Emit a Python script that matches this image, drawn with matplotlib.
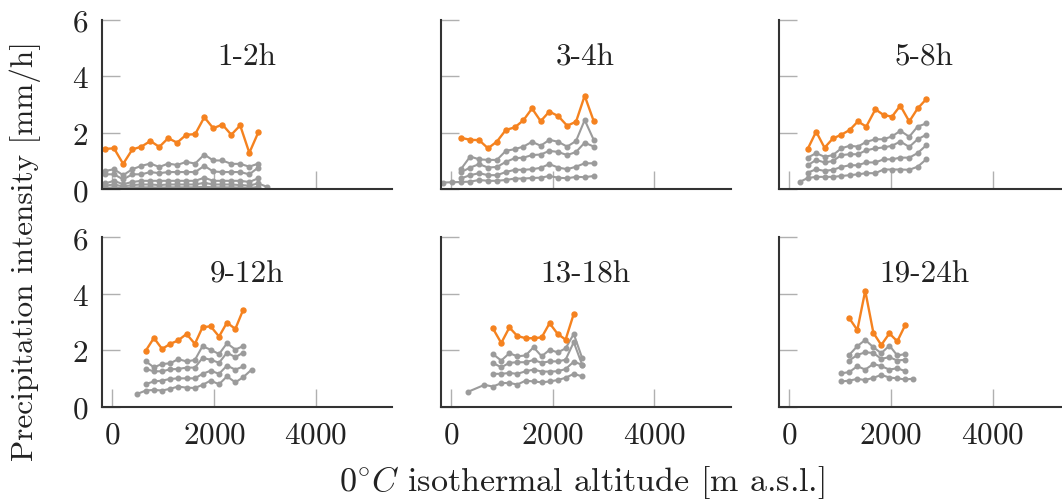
import matplotlib
matplotlib.use('Agg')
import matplotlib.pyplot as plt

plt.rcParams['font.family'] = ['cmr10', 'DejaVu Serif']
plt.rcParams['mathtext.fontset'] = 'cm'
plt.rcParams['axes.formatter.use_mathtext'] = True

# ---------------- data ----------------
titles = ['1-2h', '3-4h', '5-8h', '9-12h', '13-18h', '19-24h']

# Panel 1 (1-2h)
p1_x = [-140, 30, 210, 390, 570, 745, 920, 1095, 1270, 1450, 1625, 1805, 1980, 2160, 2335, 2510, 2690, 2865]
p1_xe = p1_x + [3045]
p1_top = [1.43, 1.45, 0.90, 1.41, 1.51, 1.71, 1.50, 1.81, 1.65, 1.93, 1.95, 2.55, 2.16, 2.29, 1.93, 2.26, 1.29, 2.01]
p1_g1 = [0.65, 0.71, 0.50, 0.71, 0.83, 0.91, 0.79, 0.91, 0.86, 0.97, 0.91, 1.23, 1.02, 1.02, 0.90, 0.90, 0.80, 0.91]
p1_g2 = [0.53, 0.53, 0.35, 0.53, 0.53, 0.61, 0.57, 0.61, 0.61, 0.61, 0.61, 0.83, 0.63, 0.61, 0.61, 0.61, 0.53, 0.77]
p1_g3 = [0.21, 0.30, 0.18, 0.26, 0.30, 0.30, 0.30, 0.30, 0.30, 0.30, 0.30, 0.41, 0.30, 0.30, 0.30, 0.30, 0.26, 0.39]
p1_g4 = [0.13, 0.17, 0.10, 0.15, 0.17, 0.17, 0.15, 0.17, 0.17, 0.17, 0.17, 0.23, 0.17, 0.17, 0.17, 0.15, 0.13, 0.21, 0.08]
p1_g5 = [0.05, 0.07, 0.04, 0.06, 0.07, 0.07, 0.06, 0.07, 0.07, 0.07, 0.07, 0.09, 0.07, 0.07, 0.07, 0.06, 0.05, 0.08]

# Panel 2 (3-4h)
p2_x = [205, 380, 555, 730, 905, 1080, 1255, 1425, 1595, 1765, 1935, 2110, 2285, 2460, 2630, 2810]
p2_xe = [-145, 30] + p2_x
p2_top = [1.82, 1.75, 1.74, 1.45, 1.69, 2.10, 2.19, 2.44, 2.86, 2.41, 2.75, 2.59, 2.25, 2.39, 3.31, 2.40]
p2_g1 = [0.73, 1.16, 1.06, 1.04, 1.04, 1.36, 1.42, 1.51, 1.68, 1.54, 1.75, 1.68, 1.51, 1.71, 2.45, 1.74]
p2_g2 = [0.61, 0.77, 0.89, 0.77, 0.79, 0.97, 1.10, 1.12, 1.21, 1.23, 1.36, 1.32, 1.21, 1.32, 1.65, 1.51]
p2_g3 = [0.39, 0.50, 0.57, 0.50, 0.50, 0.61, 0.69, 0.69, 0.71, 0.76, 0.89, 0.77, 0.71, 0.80, 0.92, 0.92]
p2_g4 = [0.24, 0.25, 0.26, 0.27, 0.33, 0.30, 0.30, 0.33, 0.38, 0.38, 0.40, 0.41, 0.47, 0.41, 0.39, 0.44, 0.43, 0.47]

# Panel 3 (5-8h)
p3_x = [365, 530, 695, 860, 1025, 1190, 1350, 1515, 1695, 1855, 2020, 2185, 2360, 2525, 2695]
p3_xe = [205] + p3_x
p3_top = [1.43, 2.04, 1.47, 1.80, 1.93, 2.10, 2.40, 2.22, 2.83, 2.63, 2.57, 2.96, 2.40, 2.86, 3.19]
p3_g1 = [1.12, 1.28, 1.15, 1.21, 1.45, 1.54, 1.51, 1.68, 1.77, 1.77, 1.87, 2.07, 1.86, 2.22, 2.33]
p3_g2 = [0.85, 1.04, 0.95, 1.00, 1.21, 1.24, 1.24, 1.38, 1.45, 1.48, 1.54, 1.69, 1.50, 1.77, 1.93]
p3_g3 = [0.59, 0.71, 0.65, 0.69, 0.79, 0.85, 0.85, 0.95, 0.95, 1.06, 1.06, 1.12, 1.12, 1.28, 1.56]
p3_g4 = [0.26, 0.40, 0.44, 0.44, 0.44, 0.47, 0.50, 0.53, 0.57, 0.57, 0.70, 0.70, 0.70, 0.69, 0.80, 1.06]

# Panel 4 (9-12h)
p4_x = [655, 815, 975, 1135, 1290, 1455, 1620, 1770, 1930, 2095, 2250, 2415, 2570]
p4_xe = [490] + p4_x + [2735]
p4_top = [1.99, 2.44, 2.05, 2.23, 2.35, 2.58, 2.23, 2.82, 2.85, 2.49, 2.98, 2.76, 3.44]
p4_g1 = [1.61, 1.40, 1.52, 1.54, 1.69, 1.61, 1.66, 2.15, 2.02, 1.87, 2.25, 2.03, 2.15]
p4_g2 = [1.34, 1.26, 1.26, 1.33, 1.34, 1.39, 1.39, 1.73, 1.67, 1.56, 1.92, 1.76, 1.92]
p4_g3 = [0.81, 0.90, 0.93, 0.99, 1.01, 1.01, 1.01, 1.17, 1.28, 1.17, 1.46, 1.32, 1.43]
p4_g4 = [0.46, 0.58, 0.60, 0.58, 0.64, 0.72, 0.68, 0.67, 0.78, 0.93, 0.80, 1.08, 0.87, 1.05, 1.32]

# Panel 5 (13-18h)
p5_x = [825, 990, 1150, 1305, 1470, 1625, 1785, 1940, 2100, 2255, 2415]
p5_xg = p5_x + [2580]
p5_xe = [345, 660] + p5_xg
p5_top = [2.78, 2.26, 2.81, 2.51, 2.43, 2.43, 2.46, 2.96, 2.58, 2.38, 3.29]
p5_g1 = [1.87, 1.64, 1.90, 1.79, 1.82, 2.11, 1.79, 2.02, 1.93, 2.07, 2.58, 1.73]
p5_g2 = [1.56, 1.40, 1.56, 1.58, 1.58, 1.66, 1.56, 1.61, 1.61, 1.67, 2.29, 1.49]
p5_g3 = [1.17, 1.17, 1.20, 1.17, 1.26, 1.32, 1.25, 1.25, 1.26, 1.34, 1.60, 1.49]
p5_g4 = [0.54, 0.78, 0.72, 0.84, 0.85, 0.79, 0.93, 0.90, 0.87, 0.90, 0.95, 1.03, 1.17, 1.08]

# Panel 6 (19-24h)
p6_x = [1180, 1340, 1495, 1655, 1810, 1970, 2125, 2285]
p6_xc = [1025] + p6_x
p6_xe = [1025] + p6_x + [2440]
p6_top = [3.14, 2.72, 4.11, 2.62, 2.19, 2.60, 2.32, 2.91]
p6_g1 = [1.84, 2.15, 2.37, 2.11, 1.90, 2.17, 1.82, 1.87]
p6_g2 = [1.64, 1.84, 1.93, 1.91, 1.70, 1.76, 1.64, 1.67]
p6_g3 = [1.19, 1.23, 1.44, 1.32, 1.52, 1.44, 1.32, 1.37, 1.26]
p6_g4 = [0.90, 0.93, 0.99, 0.95, 1.03, 1.13, 1.04, 1.01, 0.97, 1.00]

x_ticks = [0, 2000, 4000]
y_ticks = [0, 2, 4, 6]

panels = [
    (p1_x, p1_top, [(p1_x, p1_g1), (p1_x, p1_g2), (p1_x, p1_g3), (p1_xe, p1_g4), (p1_x, p1_g5)]),
    (p2_x, p2_top, [(p2_x, p2_g1), (p2_x, p2_g2), (p2_x, p2_g3), (p2_xe, p2_g4)]),
    (p3_x, p3_top, [(p3_x, p3_g1), (p3_x, p3_g2), (p3_x, p3_g3), (p3_xe, p3_g4)]),
    (p4_x, p4_top, [(p4_x, p4_g1), (p4_x, p4_g2), (p4_x, p4_g3), (p4_xe, p4_g4)]),
    (p5_x, p5_top, [(p5_xg, p5_g1), (p5_xg, p5_g2), (p5_xg, p5_g3), (p5_xe, p5_g4)]),
    (p6_x, p6_top, [(p6_x, p6_g1), (p6_x, p6_g2), (p6_xc, p6_g3), (p6_xe, p6_g4)]),
]

# ---------------- figure ----------------
W, H = 1062, 502
fig = plt.figure(figsize=(W / 100, H / 100), dpi=100)
lefts = [102.3, 440.7, 779.0]
tops = [20.7, 238.3]
aw, ah = 290.0, 169.6

ORANGE = '#f5821f'
GRAY = '#9b9b9b'
FS = 22.5

for i, (xo, yo, grays) in enumerate(panels):
    r, c = divmod(i, 3)
    ax = fig.add_axes([lefts[c] / W, (H - tops[r] - ah) / H, aw / W, ah / H])
    for gx, gy in grays:
        ax.plot(gx, gy, color=GRAY, lw=1.5, marker='o', ms=3.3, zorder=2)
    ax.plot(xo, yo, color=ORANGE, lw=1.7, marker='o', ms=3.6, zorder=3)
    ax.set_xlim(-200, 5500)
    ax.set_ylim(0, 6)
    ax.set_xticks(x_ticks)
    ax.set_yticks(y_ticks)
    for s in ['top', 'right']:
        ax.spines[s].set_visible(False)
    for s in ['left', 'bottom']:
        ax.spines[s].set_color('#333333')
        ax.spines[s].set_linewidth(1.5)
        ax.spines[s].set_zorder(4)
    ax.tick_params(direction='in', length=13, width=1.0, color='#b0b0b0',
                   labelsize=FS, labelcolor='#222222', pad=10,
                   labelleft=(c == 0), labelbottom=(r == 1))
    ax.patch.set_alpha(0)
    ax.text(0.5, 0.785, titles[i], transform=ax.transAxes, ha='center',
            va='center', fontsize=FS, color='#222222')

fig.text(25 / W, 0.5, 'Precipitation intensity [mm/h]', rotation=90,
         ha='center', va='center', fontsize=FS, color='#222222')
fig.text(582 / W, (H - 483) / H, r'$0^{\circ}C$ isothermal altitude [m a.s.l.]',
         ha='center', va='center', fontsize=24.5, color='#222222')

fig.savefig('out.png', dpi=100)
